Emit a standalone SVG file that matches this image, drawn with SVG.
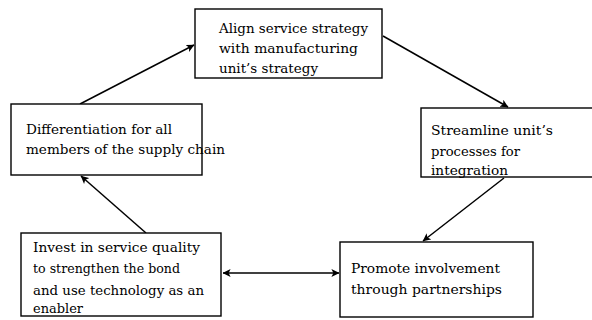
<svg xmlns="http://www.w3.org/2000/svg" width="592" height="320" viewBox="0 0 592 320">
  <style>
    .box { fill: #ffffff; stroke: #000000; stroke-width: 1.4; }
    .lbl { font-family: "DejaVu Serif", "Liberation Serif", serif; font-size: 13.5px; fill: #000000; }
    .edge { stroke: #000000; stroke-width: 1.5; fill: none; }
  </style>
  <defs>
    <marker id="head" viewBox="0 0 10 10" refX="9.5" refY="5" markerWidth="8" markerHeight="8" markerUnits="userSpaceOnUse" orient="auto-start-reverse">
      <path d="M0,0 L10,5 L0,10 L2.5,5 Z" fill="#000000"/>
    </marker>
  </defs>
  <rect width="592" height="320" fill="#ffffff"/>

  <g id="connectors">
    <line class="edge" x1="80" y1="104" x2="194" y2="45" marker-end="url(#head)"/>
    <line class="edge" x1="383" y1="36" x2="508" y2="107" marker-end="url(#head)"/>
    <line class="edge" x1="504" y1="178" x2="423" y2="241" marker-end="url(#head)"/>
    <line class="edge" x1="223" y1="273" x2="339" y2="273" marker-start="url(#head)" marker-end="url(#head)"/>
    <line class="edge" x1="146" y1="233" x2="81" y2="176" marker-end="url(#head)"/>
  </g>

  <g id="align">
    <rect class="box" x="195" y="9" width="187" height="69"/>
    <text class="lbl" x="219" y="33" textLength="149" lengthAdjust="spacingAndGlyphs">Align service strategy</text>
    <text class="lbl" x="219" y="53" textLength="139" lengthAdjust="spacingAndGlyphs">with manufacturing</text>
    <text class="lbl" x="219" y="73" textLength="99" lengthAdjust="spacingAndGlyphs">unit’s strategy</text>
  </g>

  <g id="streamline">
    <rect class="box" x="421" y="108" width="180" height="69"/>
    <text class="lbl" x="431" y="135" textLength="122" lengthAdjust="spacingAndGlyphs">Streamline unit’s</text>
    <text class="lbl" x="431" y="156" textLength="89" lengthAdjust="spacingAndGlyphs">processes for</text>
    <text class="lbl" x="431" y="175" textLength="77" lengthAdjust="spacingAndGlyphs">integration</text>
  </g>

  <g id="differentiation">
    <rect class="box" x="11" y="104" width="191" height="71"/>
    <text class="lbl" x="26" y="134" textLength="146" lengthAdjust="spacingAndGlyphs">Differentiation for all</text>
    <text class="lbl" x="26" y="154" textLength="199" lengthAdjust="spacingAndGlyphs">members of the supply chain</text>
  </g>

  <g id="invest">
    <rect class="box" x="21" y="233" width="200" height="83"/>
    <text class="lbl" x="33" y="252" textLength="167" lengthAdjust="spacingAndGlyphs">Invest in service quality</text>
    <text class="lbl" x="33" y="273" textLength="147" lengthAdjust="spacingAndGlyphs">to strengthen the bond</text>
    <text class="lbl" x="33" y="295" textLength="171" lengthAdjust="spacingAndGlyphs">and use technology as an</text>
    <text class="lbl" x="33" y="313" textLength="50" lengthAdjust="spacingAndGlyphs">enabler</text>
  </g>

  <g id="promote">
    <rect class="box" x="340" y="242" width="193" height="75"/>
    <text class="lbl" x="351" y="273" textLength="149" lengthAdjust="spacingAndGlyphs">Promote involvement</text>
    <text class="lbl" x="351" y="294" textLength="151" lengthAdjust="spacingAndGlyphs">through partnerships</text>
  </g>
</svg>
